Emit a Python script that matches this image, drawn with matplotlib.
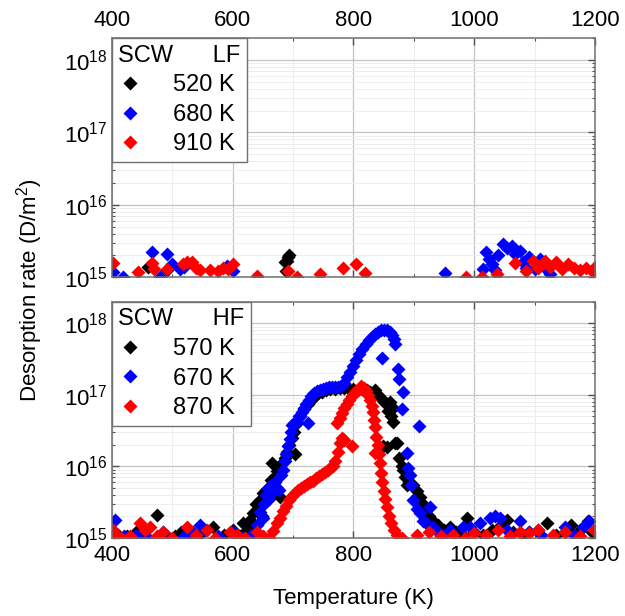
import matplotlib
matplotlib.use("Agg")
import matplotlib.pyplot as plt
from matplotlib.lines import Line2D
from matplotlib.ticker import LogLocator, MultipleLocator, NullFormatter
import numpy as np

plt.rcParams['font.family'] = ['Liberation Sans', 'DejaVu Sans']
plt.rcParams['mathtext.default'] = 'regular'

#====== data: LF (top panel) ======
lf520_T = [460, 491, 686, 688, 690, 692, 693]
lf520_r = [1.4e15, 1.25e15, 1.6e15, 1.2e15, 1.7e15, 1.9e15, 2.0e15]

lf680_T = [402, 418, 466, 480, 491, 500, 513, 520, 590, 600, 951, 1015, 1020, 1025, 1030,
           1035, 1040, 1048, 1055, 1063, 1068, 1075, 1080, 1085, 1090, 1100, 1109, 1115, 1125]
lf680_r = [1.17e15, 1.0e15, 2.2e15, 1.0e15, 2.1e15, 1.5e15, 1.3e15, 1.4e15, 1.45e15, 1.2e15,
           1.15e15, 1.3e15, 2.2e15, 1.8e15, 1.5e15, 1.25e15, 2.0e15, 2.9e15, 2.5e15, 2.7e15,
           2.1e15, 2.3e15, 1.6e15, 1.35e15, 1.9e15, 1.3e15, 1.8e15, 1.4e15, 1.1e15]

lf910_T = [402, 443, 466, 470, 491, 518, 525, 533, 540, 546, 562, 575, 584, 592, 600, 640,
           692, 707, 745, 783, 805, 819, 986, 1013, 1038, 1067, 1085, 1097, 1105, 1117, 1125,
           1135, 1145, 1155, 1165, 1175, 1185, 1195, 1200]
lf910_r = [1.55e15, 1.17e15, 1.55e15, 1.3e15, 1.3e15, 1.5e15, 1.6e15, 1.6e15, 1.35e15, 1.25e15,
           1.25e15, 1.2e15, 1.35e15, 1.3e15, 1.5e15, 1.05e15, 1.2e15, 1.0e15, 1.1e15, 1.35e15,
           1.5e15, 1.15e15, 1.0e15, 1.0e15, 1.1e15, 1.55e15, 1.2e15, 1.7e15, 1.35e15, 1.7e15,
           1.4e15, 1.6e15, 1.3e15, 1.5e15, 1.35e15, 1.25e15, 1.35e15, 1.2e15, 1.4e15]

#====== data: HF (bottom panel) ======
hf570_T = [410, 425, 440, 455, 474, 490, 505, 515, 530, 548, 567, 585, 600, 612, 625,
           617, 623, 628, 634, 638, 642, 645, 648, 650, 653, 657, 660, 663, 665, 667, 670,
           673, 678, 682, 686, 690, 694, 698, 703, 701, 706, 712, 718, 724, 730, 736, 742,
           748, 755, 762, 770, 778, 785, 792, 800, 808, 815, 822, 828, 835, 840, 845, 850,
           855, 858, 862, 865, 860, 866, 849, 855, 868, 872, 876, 880, 882, 885, 888, 892,
           898, 905, 910, 915, 920, 925, 932, 940, 950, 960, 970, 981, 988, 1000, 1015, 1030,
           1045, 1054, 1065, 1080, 1090, 1105, 1120, 1135, 1150, 1160, 1175, 1188, 1195]
hf570_r = [1.1e15, 1.05e15, 1.2e15, 1.0e15, 2.1e15, 1.1e15, 1.05e15, 1.2e15, 1.0e15, 1.15e15,
           1.4e15, 1.1e15, 1.3e15, 1.05e15, 1.4e15,
           1.6e15, 1.3e15, 1.8e15, 2.2e15, 3.0e15, 2.6e15, 3.4e15, 2.0e15, 4.2e15, 3.2e15,
           4.8e15, 3.8e15, 6.5e15, 1.1e16, 5.5e15, 7e15, 8.5e15, 3.7e15, 1.1e16, 1.3e16,
           1.6e16, 2.0e16, 2.5e16, 1.5e16, 3e16, 4e16, 5e16, 6.3e16, 7.5e16, 8.5e16, 9.5e16,
           1.05e17, 1.1e17, 1.15e17, 1.2e17, 1.22e17, 1.25e17, 1.25e17, 1.22e17, 1.2e17,
           1.18e17, 1.2e17, 1.15e17, 1.1e17, 1.15e17, 1.0e17, 9e16, 8e16, 7.5e16, 6e16, 5e16,
           4.2e16, 8e16, 6.5e16, 1.9e16, 1.85e16, 2.1e16, 2.1e16, 1.3e16, 1.0e16, 9e15, 7e15,
           5.5e15, 6e15, 5.5e15, 4.5e15, 3.7e15, 3.0e15, 2.5e15, 2.0e15, 1.7e15, 1.5e15,
           1.3e15, 1.4e15, 1.2e15, 1.1e15, 1.9e15, 1.2e15, 1.1e15, 1.3e15, 1.5e15, 1.8e15,
           1.2e15, 1.1e15, 1.2e15, 1.3e15, 1.6e15, 1.1e15, 1.2e15, 1.5e15, 1.3e15, 1.7e15, 1.2e15]

hf670_T = [405, 420, 440, 460, 485, 520, 535, 546, 555, 575, 600, 615, 630,
           640, 645, 650, 652, 655, 658, 660, 663, 667, 670, 673, 676, 680, 683, 686, 689,
           692, 695, 697, 699, 702, 706, 710, 714, 718, 722, 726, 730, 735, 740, 745, 750,
           755, 760, 765, 770, 775, 780, 785, 790, 795, 800, 805, 810, 815, 820, 825, 830,
           835, 840, 845, 850, 855, 860, 864, 867, 869, 711, 725,
           847, 874, 876, 882, 880, 908, 888, 890, 893, 896, 898, 905, 910, 915, 920, 927,
           932, 940, 950, 960, 981, 993, 1009, 1026, 1035, 1042, 1055, 1076, 1090, 1110,
           1150, 1165, 1180, 1190]
hf670_r = [1.8e15, 1.05e15, 1.1e15, 1.0e15, 1.2e15, 1.05e15, 1.2e15, 1.5e15, 1.3e15, 1.05e15,
           1.2e15, 1.0e15, 1.1e15,
           1.5e15, 2.3e15, 1.9e15, 3e15, 4e15, 5e15, 3.5e15, 5.5e15, 4.5e15, 6e15, 5e15,
           4.6e15, 7.5e15, 9e15, 1.2e16, 1.5e16, 1.9e16, 2.4e16, 3e16, 3.8e16, 4e16, 4.2e16,
           5e16, 5.8e16, 6.6e16, 7.5e16, 8.5e16, 9.5e16, 1.05e17, 1.12e17, 1.18e17, 1.22e17,
           1.25e17, 1.27e17, 1.28e17, 1.3e17, 1.3e17, 1.32e17, 1.45e17, 1.75e17, 2.1e17,
           2.5e17, 3.1e17, 3.7e17, 4.4e17, 5.2e17, 5.8e17, 6.4e17, 7e17, 7.6e17, 8e17, 8.2e17,
           8e17, 7.6e17, 6.8e17, 6e17, 5.2e17, 5e16, 4e16,
           3.3e17, 2.3e17, 1.65e17, 1.1e17, 6.3e16, 3.7e16, 1.55e16, 9.5e15, 7.5e15, 5.5e15,
           3.4e15, 2.5e15, 2.2e15, 1.7e15, 1.6e15, 2.7e15, 1.4e15, 1.2e15, 1.1e15, 1.3e15,
           1.4e15, 1.4e15, 1.6e15, 1.9e15, 2.0e15, 1.9e15, 1.3e15, 1.7e15, 1.2e15, 1.1e15,
           1.4e15, 1.1e15, 1.4e15, 1.7e15]

hf870_T = [402, 407, 415, 430, 446, 455, 463, 475, 485, 500, 524, 540, 557, 570, 596, 607,
           620, 640, 650, 660,
           667, 673, 678, 683, 688, 693, 698, 703, 708, 713, 718, 723, 728, 733, 738, 743,
           748, 753, 758, 762, 766, 770, 774, 778, 781, 784, 797, 773, 777, 781, 785, 789,
           793, 797, 801, 805, 809, 813, 817, 821, 824, 827, 830, 832, 834, 836, 838, 840,
           842, 844, 846, 848, 850, 853, 856, 859, 863, 867, 872, 836,
           880, 905, 925, 945, 965, 985, 1000, 1020, 1040, 1060, 1075, 1090, 1105, 1130,
           1150, 1175, 1198]
hf870_r = [1.3e15, 1.1e15, 1.0e15, 1.05e15, 1.6e15, 1.3e15, 1.4e15, 1.05e15, 1.2e15, 1.0e15,
           1.4e15, 1.1e15, 1.3e15, 1.0e15, 1.2e15, 1.1e15, 1.0e15, 1.2e15, 1.05e15, 1.0e15,
           1.25e15, 1.6e15, 1.9e15, 2.4e15, 2.8e15, 3.4e15, 3.8e15, 4.2e15, 4.6e15, 5e15,
           5.3e15, 5.7e15, 6e15, 6.3e15, 6.8e15, 7.2e15, 7.8e15, 8.3e15, 9e15, 9.5e15, 1.0e16,
           1.2e16, 1.6e16, 2.1e16, 2.5e16, 2.3e16, 1.95e16, 4e16, 4.8e16, 5.5e16, 6.5e16,
           7.5e16, 8.5e16, 9.5e16, 1.05e17, 1.12e17, 1.2e17, 1.35e17, 1.25e17, 1.12e17, 1.0e17,
           8.5e16, 7e16, 5.8e16, 4.5e16, 3.5e16, 2.6e16, 2e16, 1.5e16, 1.1e16, 8e15, 6e15,
           4.5e15, 3.5e15, 2.7e15, 2e15, 1.6e15, 1.3e15, 1.1e15, 1.55e16,
           1.0e15, 1.1e15, 1.2e15, 1.05e15, 1.1e15, 1.0e15, 1.15e15, 1.1e15, 1.3e15, 1.05e15,
           1.2e15, 1.15e15, 1.3e15, 1.1e15, 1.2e15, 1.05e15, 1.3e15]

colors = ['black', '#0000ff', '#ff0000']
ms = 7
fs = 16

#======= figure ========
fig = plt.figure(figsize=(6.25, 6.16), dpi=100)
ax1 = fig.add_axes([0.179, 0.550, 0.773, 0.388])
ax2 = fig.add_axes([0.179, 0.127, 0.773, 0.383])


def style_axes(ax, top_labels):
    ax.set_xlim(400, 1200)
    ax.set_yscale('log')
    ax.set_ylim(1e15, 2e18)
    ax.xaxis.set_major_locator(MultipleLocator(200))
    ax.xaxis.set_minor_locator(MultipleLocator(100))
    ax.yaxis.set_major_locator(LogLocator(base=10, numticks=10))
    ax.yaxis.set_minor_locator(LogLocator(base=10, subs=np.arange(2, 10), numticks=20))
    ax.yaxis.set_minor_formatter(NullFormatter())
    ax.grid(True, which='major', color='#c4c4c4', lw=0.9)
    ax.grid(True, which='minor', color='#ededed', lw=0.7)
    ax.set_axisbelow(True)
    for s in ax.spines.values():
        s.set_color('#707070')
        s.set_linewidth(1.1)
    ax.tick_params(which='both', direction='in', top=True, right=True, color='#505050',
                   labelsize=fs, labeltop=top_labels, labelbottom=not top_labels)
    ax.tick_params(which='major', length=5, width=1)
    ax.tick_params(which='minor', length=2.5, width=0.8)
    ax.tick_params(axis='x', pad=5)
    ax.tick_params(axis='y', pad=3)


def add_legend(ax, title, labels):
    handles = [Line2D([], [], ls='none', marker='D', ms=ms, color=c, mec='none')
               for c in colors]
    leg = ax.legend(handles, labels, title=title, loc='upper left', borderaxespad=0,
                    fontsize=17, title_fontsize=17, alignment='left', fancybox=False,
                    framealpha=1, edgecolor='#707070', handlelength=1.0,
                    handletextpad=1.3, labelspacing=0.32, borderpad=0.28)
    leg.get_frame().set_linewidth(1.0)


style_axes(ax1, True)
for T, r, c in zip([lf520_T, lf680_T, lf910_T], [lf520_r, lf680_r, lf910_r], colors):
    ax1.plot(T, r, ls='none', marker='D', ms=ms, color=c, mec='none')
add_legend(ax1, 'SCW      LF', ['520 K', '680 K', '910 K'])

style_axes(ax2, False)
for T, r, c in zip([hf570_T, hf670_T, hf870_T], [hf570_r, hf670_r, hf870_r], colors):
    ax2.plot(T, r, ls='none', marker='D', ms=ms, color=c, mec='none')
add_legend(ax2, 'SCW      HF', ['570 K', '670 K', '870 K'])

ax2.set_xlabel('Temperature (K)', fontsize=fs, labelpad=16)
fig.text(0.048, 0.53, 'Desorption rate (D/m$^2$)', rotation=90, ha='center', va='center',
         fontsize=fs)

fig.savefig('out.png', dpi=100)
